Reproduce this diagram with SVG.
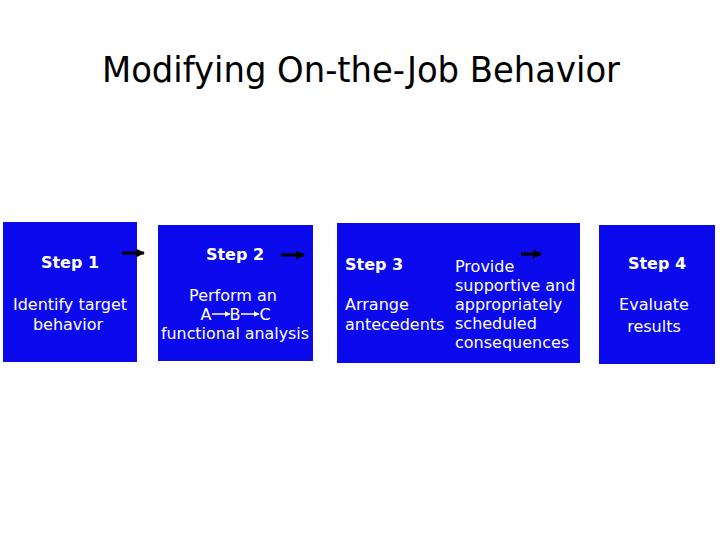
<svg xmlns="http://www.w3.org/2000/svg" width="720" height="540" viewBox="0 0 720 540">
<defs>
<style>
.box{fill:#0A0AEC;}
.t{font-family:"DejaVu Sans",Verdana,sans-serif;fill:#fff;font-size:16px;}
.b{font-weight:bold;font-size:16px;}
.title{font-family:"DejaVu Sans",Tahoma,sans-serif;font-size:36px;fill:#000;}
.arr{stroke:#000;stroke-width:3;fill:none;marker-end:url(#ah);}
.sarr{stroke:#fff;stroke-width:1.5;fill:none;marker-end:url(#sh);}
</style>
<marker id="ah" viewBox="0 0 10 10" refX="9" refY="5" markerWidth="3" markerHeight="3" orient="auto" markerUnits="strokeWidth"><path d="M0,0 L10,5 L0,10 Z" fill="#000"/></marker>
<marker id="sh" viewBox="0 0 10 10" refX="9" refY="5" markerWidth="4" markerHeight="4" orient="auto" markerUnits="strokeWidth"><path d="M0,0 L10,5 L0,10 Z" fill="#fff"/></marker>
</defs>
<rect width="720" height="540" fill="#fff"/>
<text class="title" x="361" y="82" text-anchor="middle" textLength="518" lengthAdjust="spacingAndGlyphs">Modifying On-the-Job Behavior</text>
<g id="step1">
<rect class="box" x="3" y="222" width="134" height="140"/>
<text class="t b" x="70" y="268" text-anchor="middle">Step 1</text>
<text class="t" x="70" y="310" text-anchor="middle">Identify target</text>
<text class="t" x="68" y="330" text-anchor="middle">behavior</text>
</g>
<g id="step2">
<rect class="box" x="158" y="225" width="155" height="136"/>
<text class="t b" x="235" y="260" text-anchor="middle">Step 2</text>
<text class="t" x="233" y="301" text-anchor="middle">Perform an</text>
<text class="t" x="206" y="320" text-anchor="middle">A</text>
<text class="t" x="235" y="320" text-anchor="middle">B</text>
<text class="t" x="265" y="320" text-anchor="middle">C</text>
<line class="sarr" x1="212" y1="314" x2="230" y2="314"/>
<line class="sarr" x1="241" y1="314" x2="259" y2="314"/>
<text class="t" x="235" y="339" text-anchor="middle" textLength="148" lengthAdjust="spacingAndGlyphs">functional analysis</text>
</g>
<g id="step3">
<rect class="box" x="337" y="223" width="243" height="140"/>
<text class="t b" x="345" y="270">Step 3</text>
<text class="t" x="345" y="310">Arrange</text>
<text class="t" x="345" y="330">antecedents</text>
<text class="t" x="455" y="272">Provide</text>
<text class="t" x="455" y="291">supportive and</text>
<text class="t" x="455" y="310">appropriately</text>
<text class="t" x="455" y="329">scheduled</text>
<text class="t" x="455" y="348">consequences</text>
</g>
<g id="step4">
<rect class="box" x="599" y="225" width="116" height="139"/>
<text class="t b" x="657" y="269" text-anchor="middle">Step 4</text>
<text class="t" x="654" y="310" text-anchor="middle">Evaluate</text>
<text class="t" x="654" y="332" text-anchor="middle">results</text>
</g>
<g id="connectors">
<line class="arr" x1="122" y1="253" x2="144" y2="253"/>
<line class="arr" x1="281" y1="255" x2="304" y2="255"/>
<line class="arr" x1="521" y1="254" x2="541" y2="254"/>
</g>
</svg>
